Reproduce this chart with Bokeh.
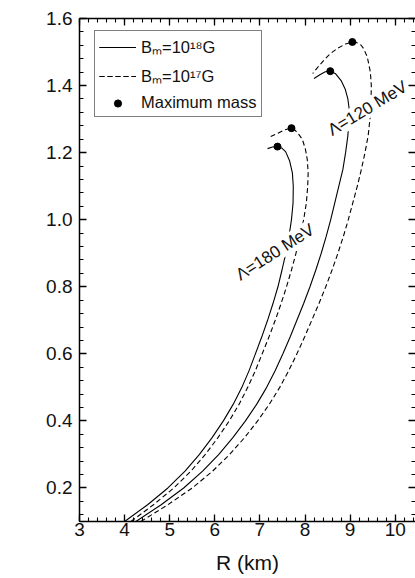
import numpy as np
from bokeh.plotting import figure
from bokeh.models import (Label, Legend, LegendItem, LinearAxis, FixedTicker, NumeralTickFormatter,
                          Range1d, CustomLabelingPolicy)
from bokeh.embed import file_html
from bokeh.resources import INLINE

# ---------------- data ----------------
# Lambda = 180 MeV, B_m = 1e18 G (solid)
m_180_b18 = [0.10, 0.15, 0.20, 0.25, 0.30, 0.35, 0.40, 0.45, 0.50, 0.55, 0.60, 0.65, 0.70, 0.75, 0.80,
             0.85, 0.90, 0.95, 1.00, 1.05, 1.10, 1.14, 1.175, 1.203, 1.214, 1.218, 1.217, 1.212]
r_180_b18 = [4.00, 4.51, 4.96, 5.34, 5.66, 5.94, 6.19, 6.41, 6.60, 6.76, 6.90, 7.04, 7.17, 7.29, 7.40,
             7.49, 7.575, 7.645, 7.70, 7.735, 7.74, 7.72, 7.66, 7.57, 7.48, 7.39, 7.28, 7.17]
# Lambda = 180 MeV, B_m = 1e17 G (dashed)
m_180_b17 = [0.10, 0.15, 0.20, 0.25, 0.30, 0.35, 0.40, 0.45, 0.50, 0.55, 0.60, 0.65, 0.70, 0.75, 0.80,
             0.85, 0.90, 0.95, 1.00, 1.05, 1.10, 1.14, 1.18, 1.21, 1.24, 1.253, 1.267, 1.273, 1.268, 1.258, 1.248]
r_180_b17 = [4.14, 4.64, 5.09, 5.47, 5.79, 6.07, 6.32, 6.54, 6.73, 6.90, 7.05, 7.20, 7.34, 7.47, 7.59,
             7.70, 7.80, 7.89, 7.97, 8.03, 8.06, 8.07, 8.05, 8.01, 7.94, 7.87, 7.78, 7.70, 7.55, 7.40, 7.24]
# Lambda = 120 MeV, B_m = 1e18 G (solid)
m_120_b18 = [0.10, 0.15, 0.20, 0.25, 0.30, 0.35, 0.40, 0.45, 0.50, 0.55, 0.60, 0.65, 0.70, 0.75, 0.80,
             0.85, 0.90, 0.95, 1.00, 1.05, 1.10, 1.15, 1.20, 1.25, 1.30, 1.33, 1.36, 1.39, 1.415, 1.435,
             1.443, 1.441, 1.432, 1.421]
r_120_b18 = [4.25, 4.81, 5.31, 5.73, 6.09, 6.40, 6.68, 6.93, 7.15, 7.34, 7.51, 7.67, 7.82, 7.97, 8.11,
             8.24, 8.36, 8.47, 8.57, 8.66, 8.75, 8.84, 8.90, 8.95, 8.975, 8.98, 8.95, 8.89, 8.80, 8.68,
             8.56, 8.45, 8.33, 8.20]
# Lambda = 120 MeV, B_m = 1e17 G (dashed)
m_120_b17 = [0.10, 0.15, 0.20, 0.25, 0.30, 0.35, 0.40, 0.45, 0.50, 0.55, 0.60, 0.65, 0.70, 0.75, 0.80,
             0.85, 0.90, 0.95, 1.00, 1.05, 1.10, 1.15, 1.20, 1.25, 1.30, 1.35, 1.40, 1.44, 1.486, 1.51,
             1.521, 1.528, 1.530, 1.524, 1.511, 1.494, 1.476, 1.457, 1.436]
r_120_b17 = [4.36, 4.96, 5.50, 5.95, 6.33, 6.66, 6.95, 7.21, 7.44, 7.64, 7.82, 7.99, 8.15, 8.31, 8.46,
             8.60, 8.73, 8.85, 8.96, 9.06, 9.16, 9.25, 9.33, 9.40, 9.44, 9.465, 9.47, 9.45, 9.38, 9.30,
             9.24, 9.15, 9.05, 8.90, 8.72, 8.55, 8.42, 8.30, 8.17]
# maximum-mass configurations
max_r = [7.39, 7.70, 8.56, 9.05]
max_m = [1.218, 1.273, 1.443, 1.530]

x_ticks = [3, 4, 5, 6, 7, 8, 9, 10]
x_tick_labels = ["3", "4", "5", "6", "7", "8", "9", "10"]
y_ticks = [0.2, 0.4, 0.6, 0.8, 1.0, 1.2, 1.4, 1.6]
y_tick_labels = ["0.2", "0.4", "0.6", "0.8", "1.0", "1.2", "1.4", "1.6"]

FONT = "Liberation Sans"
INK = "#111111"

p = figure(width=415, height=576, output_backend="svg", toolbar_location=None,
           x_range=Range1d(3, 10.45), y_range=Range1d(0.1, 1.6),
           x_axis_label="R (km)",
           min_border_left=79, min_border_right=0, min_border_top=18, min_border_bottom=54)
p.grid.visible = False
p.outline_line_color = None
p.background_fill_color = "white"

x_minor = [round(v, 2) for v in np.arange(3.0, 10.46, 0.2)]
y_minor = [round(v, 2) for v in np.arange(0.12, 1.601, 0.04)]

no_labels = CustomLabelingPolicy(code="return []")

def style_axis(ax, ticker, labels=True, overrides=None, fmt="0"):
    ax.ticker = ticker
    ax.major_tick_in = 7
    ax.major_tick_out = 0
    ax.minor_tick_in = 4
    ax.minor_tick_out = 0
    ax.axis_line_width = 1.5
    ax.major_tick_line_width = 1.3
    ax.minor_tick_line_width = 1.1
    ax.axis_line_color = "black"
    ax.major_tick_line_color = "black"
    ax.minor_tick_line_color = "black"
    if labels:
        ax.major_label_text_font = FONT
        ax.major_label_text_font_size = "19px"
        ax.major_label_text_color = INK
        ax.formatter = NumeralTickFormatter(format=fmt)
        if overrides:
            ax.major_label_overrides = overrides
    else:
        ax.major_label_text_font_size = "0px"
        ax.major_label_standoff = 0
        ax.major_label_policy = no_labels

style_axis(p.xaxis[0], FixedTicker(ticks=x_ticks, minor_ticks=x_minor), True,
           dict(zip(x_ticks, x_tick_labels)), "0")
p.xaxis[0].major_label_standoff = 1
p.xaxis[0].axis_label_text_font = FONT
p.xaxis[0].axis_label_text_font_style = "normal"
p.xaxis[0].axis_label_text_font_size = "21px"
p.xaxis[0].axis_label_standoff = 12
p.xaxis[0].axis_label_text_color = INK

style_axis(p.yaxis[0], FixedTicker(ticks=y_ticks, minor_ticks=y_minor), True,
           dict(zip(y_ticks, y_tick_labels)), "0.0")
p.yaxis[0].major_label_standoff = 7

top = LinearAxis()
style_axis(top, FixedTicker(ticks=x_ticks, minor_ticks=x_minor), False)
p.add_layout(top, "above")
right = LinearAxis()
style_axis(right, FixedTicker(ticks=y_ticks, minor_ticks=y_minor), False)
right.axis_line_color = None
p.add_layout(right, "right")

# curves
LW = 1.1
s1 = p.line(r_180_b18, m_180_b18, line_color="black", line_width=LW)
s2 = p.line(r_120_b18, m_120_b18, line_color="black", line_width=LW)
d1 = p.line(r_180_b17, m_180_b17, line_color="black", line_width=LW, line_dash="5 3")
d2 = p.line(r_120_b17, m_120_b17, line_color="black", line_width=LW, line_dash="5 3")
dots = p.scatter(max_r, max_m, marker="circle", size=7, fill_color="black", line_color="black")

# curve labels
for txt, x, y, ang in [("\u039b=180 MeV", 7.335, 0.903, 32.8), ("\u039b=120 MeV", 9.385, 1.332, 31.3)]:
    p.add_layout(Label(x=x, y=y, text=txt, angle=np.deg2rad(ang), text_align="center",
                       text_baseline="middle", text_font=FONT, text_font_size="17px",
                       text_color=INK, background_fill_color="white"))

# y axis title (placed as in the reference, off-centre)
p.add_layout(Label(x=1.736, y=0.948, text="MASS (solar mass)", angle=np.pi / 2,
                   text_align="center", text_baseline="middle", text_font=FONT,
                   text_font_size="24px", text_color=INK))

legend = Legend(items=[
    LegendItem(label="B\u2098=10\u00b9\u2078G", renderers=[s1, s2]),
    LegendItem(label="B\u2098=10\u00b9\u2077G", renderers=[d1, d2]),
    LegendItem(label="Maximum mass", renderers=[dots]),
], location=(15, 404))
legend.label_text_font = FONT
legend.label_text_font_size = "16.5px"
legend.label_text_color = INK
legend.glyph_width = 37
legend.glyph_height = 18
legend.label_height = 18
legend.spacing = 6
legend.padding = 4
legend.margin = 0
legend.label_standoff = 5
legend.border_line_color = "black"
legend.border_line_width = 1
legend.background_fill_color = "white"
legend.background_fill_alpha = 1.0
p.add_layout(legend, "center")

open("out.html", "w").write(file_html(p, INLINE))
